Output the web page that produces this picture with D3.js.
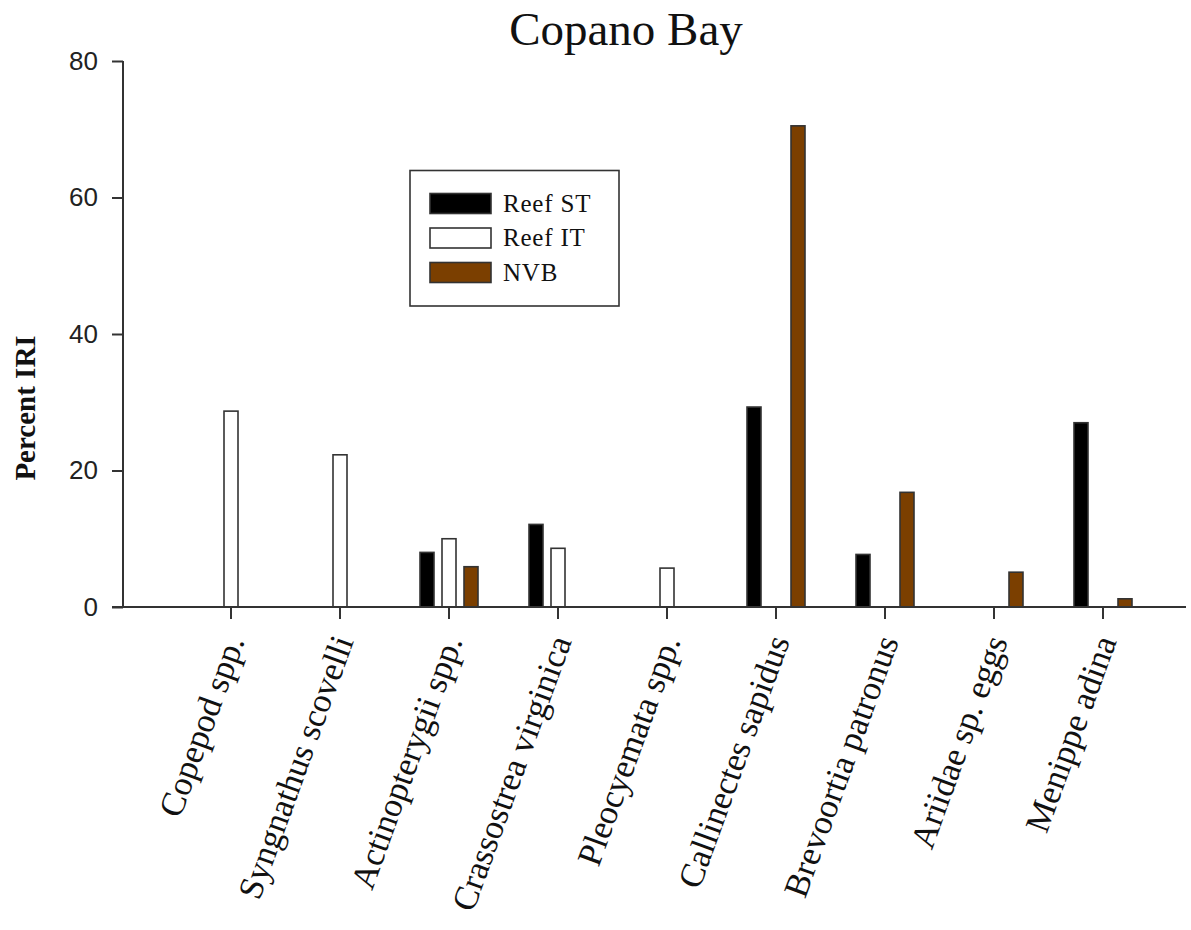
<!DOCTYPE html>
<html>
<head>
<meta charset="utf-8">
<script src="https://cdn.jsdelivr.net/npm/d3@7"></script>
<style>
  body { margin: 0; background: #fff; }
  svg { display: block; }
</style>
</head>
<body>
<svg id="chart" width="1191" height="930"></svg>
<script>
// Prey categories along the x axis
const categories = [
  "Copepod spp.", "Syngnathus scovelli", "Actinopterygii spp.",
  "Crassostrea virginica", "Pleocyemata spp.", "Callinectes sapidus",
  "Brevoortia patronus", "Ariidae sp. eggs", "Menippe adina"
];
// Series names (legend order)
const seriesNames = ["Reef ST", "Reef IT", "NVB"];
// Percent IRI for each series, one value per category (0 = absent)
const reefST = [0, 0, 8.0, 12.1, 0, 29.3, 7.7, 0, 27.0];
const reefIT = [28.7, 22.3, 10.0, 8.6, 5.7, 0, 0, 0, 0];
const nvb    = [0, 0, 5.9, 0, 0, 70.5, 16.8, 5.1, 1.2];
// Y axis ticks
const yTicks = [0, 20, 40, 60, 80];

const seriesValues = [reefST, reefIT, nvb];
const fills = ["#000000", "#ffffff", "#7b3f00"];

const svg = d3.select("#chart");

const x = d3.scaleBand().domain(categories).range([176.5, 1157.5]).padding(0);
const xs = d3.scaleBand().domain(seriesNames).range([-33, 33])
  .paddingInner(0.3636).paddingOuter(0.1818);
const y = d3.scaleLinear().domain([0, 80]).range([607, 61]);
const color = d3.scaleOrdinal().domain(seriesNames).range(fills);

// Title
svg.append("text")
  .attr("x", 626).attr("y", 45)
  .attr("text-anchor", "middle")
  .attr("font-family", "Liberation Serif, Times New Roman, serif")
  .attr("font-size", 47)
  .attr("fill", "#111")
  .text("Copano Bay");

// Y axis
const yAxis = svg.append("g")
  .attr("transform", "translate(123,0)")
  .call(d3.axisLeft(y).tickValues(yTicks).tickSize(11).tickPadding(14));
yAxis.select(".domain").attr("stroke", "#333").attr("stroke-width", 2)
  .attr("d", `M0,${y(80)}V${y(0)}`);
yAxis.selectAll(".tick line").attr("stroke", "#333").attr("stroke-width", 2);
yAxis.selectAll(".tick text")
  .attr("font-family", "Liberation Sans, Arial, sans-serif")
  .attr("font-size", 26)
  .attr("fill", "#222");

// Y axis title
svg.append("text")
  .attr("transform", "translate(35,408) rotate(-90)")
  .attr("text-anchor", "middle")
  .attr("font-family", "Liberation Serif, Times New Roman, serif")
  .attr("font-weight", "bold")
  .attr("font-size", 29)
  .attr("fill", "#111")
  .text("Percent IRI");

// Bars
const groups = svg.append("g").selectAll("g")
  .data(categories)
  .join("g")
  .attr("transform", c => `translate(${x(c) + x.bandwidth() / 2},0)`);

groups.selectAll("rect")
  .data((c, i) => seriesNames.map((s, k) => ({ s, v: seriesValues[k][i] })).filter(d => d.v > 0))
  .join("rect")
  .attr("x", d => xs(d.s))
  .attr("width", xs.bandwidth())
  .attr("y", d => y(d.v))
  .attr("height", d => y(0) - y(d.v))
  .attr("fill", d => color(d.s))
  .attr("stroke", "#333")
  .attr("stroke-width", 1.6);

// X axis line
svg.append("line")
  .attr("x1", 112).attr("x2", 1186)
  .attr("y1", y(0)).attr("y2", y(0))
  .attr("stroke", "#333").attr("stroke-width", 2);

// X ticks and rotated labels
const xt = svg.append("g").selectAll("g")
  .data(categories)
  .join("g")
  .attr("transform", c => `translate(${x(c) + x.bandwidth() / 2},0)`);
xt.append("line")
  .attr("y1", y(0)).attr("y2", y(0) + 12)
  .attr("stroke", "#333").attr("stroke-width", 2);
xt.append("text")
  .attr("transform", `translate(14,${y(0) + 34}) rotate(-70)`)
  .attr("text-anchor", "end")
  .attr("font-family", "Liberation Serif, Times New Roman, serif")
  .attr("font-size", 34.5)
  .attr("fill", "#111")
  .text(c => c);

// Legend
const legend = svg.append("g");
legend.append("rect")
  .attr("x", 410).attr("y", 170.5).attr("width", 209).attr("height", 135.5)
  .attr("fill", "#fff").attr("stroke", "#333").attr("stroke-width", 1.6);
const items = legend.selectAll("g.item")
  .data(seriesNames)
  .join("g").attr("class", "item")
  .attr("transform", (d, i) => `translate(430,${193.5 + i * 34.5})`);
items.append("rect")
  .attr("width", 61).attr("height", 20)
  .attr("fill", d => color(d))
  .attr("stroke", "#333").attr("stroke-width", 1.6);
items.append("text")
  .attr("x", 73).attr("y", 18)
  .attr("font-family", "Liberation Serif, Times New Roman, serif")
  .attr("font-size", 25)
  .attr("letter-spacing", 0.8)
  .attr("fill", "#111")
  .text(d => d);
</script>
</body>
</html>
